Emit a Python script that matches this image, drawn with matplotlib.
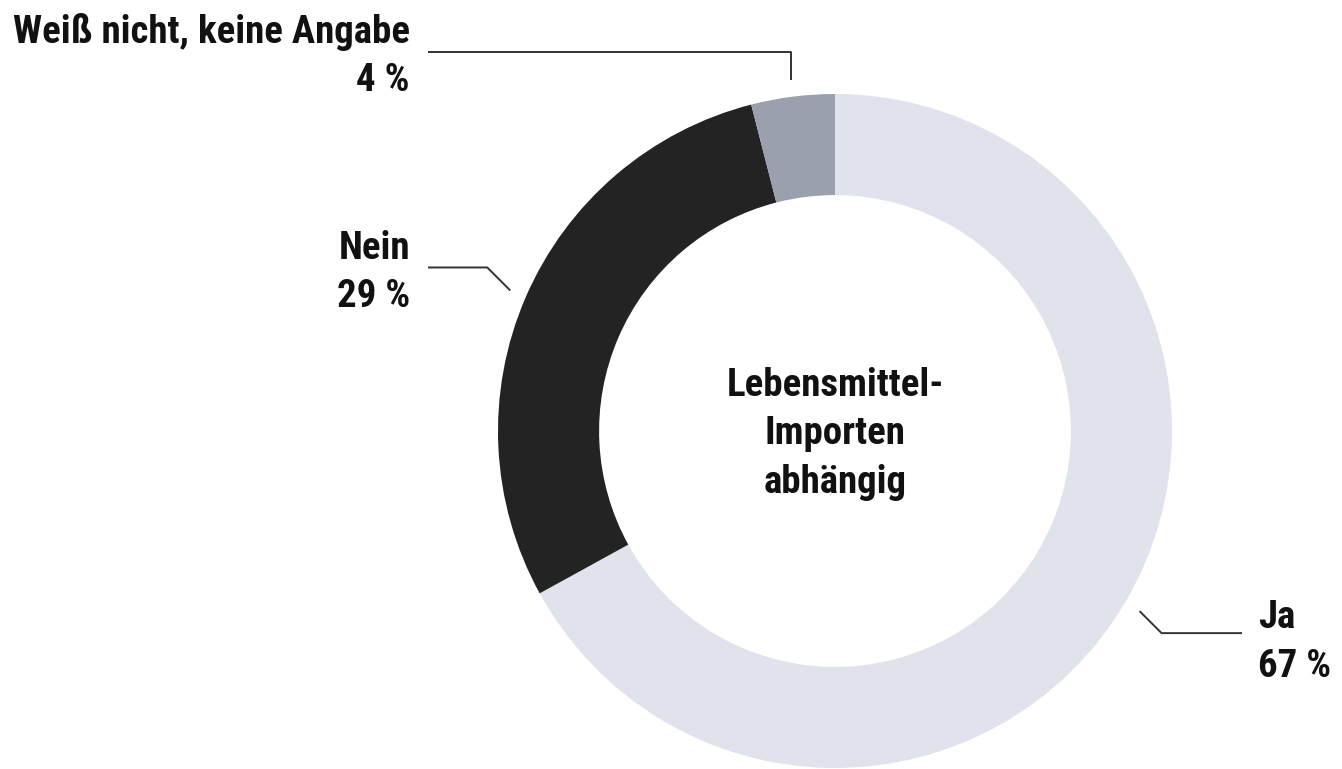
import numpy as np
import matplotlib
matplotlib.use("Agg")
import matplotlib.pyplot as plt
from matplotlib import font_manager

# data
labels = ["Ja", "Nein", "Weiß nicht, keine Angabe"]
shares = [67, 29, 4]
colors = ["#e1e3ec", "#222322", "#9aa0ae"]
center_text = "Lebensmittel-\nImporten\nabhängig"

# pick a narrow bold face if there is one
have = {f.name for f in font_manager.fontManager.ttflist}
cands = ["Liberation Sans Narrow", "DejaVu Sans Condensed", "Roboto Condensed",
         "Open Sans Condensed", "Roboto", "Liberation Sans"]
FONT = [c for c in cands if c in have][:1] + ["DejaVu Sans"]

W, H = 1342, 769
cx, cy, r = 835, H - 431, 337

fig = plt.figure(figsize=(W / 100, H / 100), dpi=100)
ax = fig.add_axes([0, 0, 1, 1])
wedges, _ = ax.pie(shares, colors=colors, startangle=90, counterclock=False,
                   center=(cx, cy), radius=r, frame=True,
                   wedgeprops=dict(width=r * 0.30, linewidth=0))
ax.set_xlim(0, W)
ax.set_ylim(0, H)
ax.set_aspect("equal")
ax.axis("off")

fs = 28
ax.text(cx, cy - 3, center_text, ha="center", va="center", fontsize=fs,
        fontweight="bold", family=FONT, linespacing=1.4, color="#111111")

# leader lines from wedge mid angles
def anchor(w, k=1.05):
    a = np.deg2rad((w.theta1 + w.theta2) / 2)
    return cx + k * r * np.cos(a), cy + k * r * np.sin(a)

lc = dict(color="#333333", lw=1.4, solid_capstyle="butt")
tk = dict(fontsize=fs, fontweight="bold", family=FONT, color="#111111",
          linespacing=1.4)

# Ja
x0, y0 = anchor(wedges[0])
ax.plot([x0, x0 + 22, 1242], [y0, y0 - 22, y0 - 22], **lc)
ax.text(1258, y0 - 31, f"{labels[0]}\n{shares[0]} %", ha="left", va="center", **tk)

# Nein
x0, y0 = anchor(wedges[1])
ax.plot([x0, x0 - 23, 428], [y0, y0 + 23, y0 + 23], **lc)
ax.text(410, y0 + 18, f"{labels[1]}\n{shares[1]} %", ha="right", va="center", **tk)

# Weiß nicht
x0, y0 = anchor(wedges[2])
ly = H - 52
ax.plot([x0, x0, 428], [y0, ly, ly], **lc)
ax.text(410, ly - 4, f"{labels[2]}\n{shares[2]} %", ha="right", va="center", **tk)

fig.savefig("out.png", dpi=100, facecolor="white")
